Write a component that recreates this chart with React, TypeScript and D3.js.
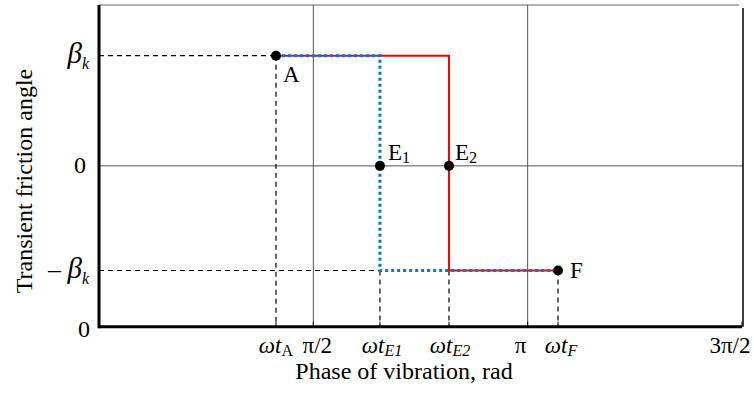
import React from 'react';
import * as d3 from 'd3';

// phases (rad)
const phaseA = 1.297;
const phaseE1 = 2.059;
const phaseE2 = 2.565;
const phaseF = 3.364;

const betaK = 1;
const negBetaK = -0.95;

const redPhase = [phaseA, phaseE2, phaseE2, phaseF];
const redAngle = [betaK, betaK, negBetaK, negBetaK];
const bluePhase = [phaseA, phaseE1, phaseE1, phaseF];
const blueAngle = [betaK, betaK, negBetaK, negBetaK];

const pointNames = ['A', 'E_1', 'E_2', 'F'];
const pointPhase = [phaseA, phaseE1, phaseE2, phaseF];
const pointAngle = [betaK, 0, 0, negBetaK];

const xTickVals = [phaseA, Math.PI / 2, phaseE1, phaseE2, Math.PI, phaseF, (3 * Math.PI) / 2];
const xTickLabels = ['ωt_A', 'π/2', 'ωt_E1', 'ωt_E2', 'π', 'ωt_F', '3π/2'];

const yTickVals = [betaK, 0, negBetaK, -1.46];
const yTickLabels = ['β_k', '0', '– β_k', '0'];

const W = 754;
const H = 396;
const FONT = '"Liberation Serif", "Times New Roman", serif';

const x = d3.scaleLinear().domain([0, (3 * Math.PI) / 2]).range([99, 742]);
const y = d3.scaleLinear().domain([-1.46, 1.46]).range([326.7, 5]);

const line = d3.line<[number, number]>()
  .x(d => x(d[0]))
  .y(d => y(d[1]));

const zip = (a: number[], b: number[]) => a.map((v, i) => [v, b[i]] as [number, number]);

const xLabelDx = [0, 4, 2, 1, -7, 3, -12];
const pointLabelPos = [
  { dx: 7, dy: 26 },
  { dx: 8, dy: -6 },
  { dx: 6, dy: -6 },
  { dx: 12, dy: 7 },
];

const TickLabel = ({ label, italic }: { label: string; italic: boolean }) => {
  const [main, sub] = label.split('_');
  return (
    <>
      <tspan fontStyle={italic ? 'italic' : 'normal'}>{main}</tspan>
      {sub && (
        <tspan fontSize={16} dy={3} fontStyle={sub === 'A' ? 'normal' : 'italic'}>{sub}</tspan>
      )}
    </>
  );
};

const App = () => {
  const x0 = x(0);
  const x1 = x((3 * Math.PI) / 2);
  const yTop = y(1.46);
  const yBot = y(-1.46);
  const dash = '5,4';

  return (
    <svg width={W} height={H} style={{ position: 'absolute', left: 0, top: 0, background: '#fff' }} fontFamily={FONT}>
      {/* grid */}
      <line x1={x0} x2={x1 - 3} y1={yTop} y2={yTop} stroke="#666" strokeWidth={1.2} />
      {[Math.PI / 2, Math.PI].map(v => (
        <line key={v} x1={x(v)} x2={x(v)} y1={yTop} y2={yBot} stroke="#555" strokeWidth={1} />
      ))}
      <line x1={x0} x2={x1 + 1} y1={y(0)} y2={y(0)} stroke="#555" strokeWidth={1} />
      <line x1={x1 + 1} x2={x1 + 1} y1={yTop + 3} y2={yBot} stroke="#000" strokeWidth={1.5} />

      {/* dashed guides */}
      <g stroke="#000" strokeWidth={1.2} strokeDasharray={dash} fill="none">
        <line x1={x0} x2={x(phaseA)} y1={y(betaK)} y2={y(betaK)} />
        <line x1={x0} x2={x(phaseE1)} y1={y(negBetaK)} y2={y(negBetaK)} />
        <line x1={x(phaseA)} x2={x(phaseA)} y1={y(betaK)} y2={yBot} />
        <line x1={x(phaseE1)} x2={x(phaseE1)} y1={y(negBetaK)} y2={yBot} />
        <line x1={x(phaseE2)} x2={x(phaseE2)} y1={y(negBetaK)} y2={yBot} />
        <line x1={x(phaseF)} x2={x(phaseF)} y1={y(negBetaK)} y2={yBot} />
      </g>

      {/* series */}
      <path d={line(zip(redPhase, redAngle)) || ''} fill="none" stroke="#ff0000" strokeWidth={2} />
      <path d={line(zip(bluePhase, blueAngle)) || ''} fill="none" stroke="#0a74c8" strokeWidth={3} strokeDasharray="3,3" />

      {/* axes */}
      <line x1={x0} x2={x0} y1={yTop} y2={yBot + 1.5} stroke="#000" strokeWidth={3} />
      <line x1={x0} x2={x1} y1={yBot} y2={yBot} stroke="#000" strokeWidth={3} />
      {xTickVals.map((v, i) => (
        <line key={i} x1={x(v)} x2={x(v)} y1={yBot} y2={yBot - 5} stroke="#000" strokeWidth={1} />
      ))}

      {/* points */}
      {pointNames.map((n, i) => {
        const [main, sub] = n.split('_');
        const px = x(pointPhase[i]);
        const py = y(pointAngle[i]);
        return (
          <g key={n}>
            <circle cx={px} cy={py} r={5} fill="#000" />
            <text x={px + pointLabelPos[i].dx} y={py + pointLabelPos[i].dy} fontSize={23}>
              {main}
              {sub && <tspan fontSize={16} dy={3}>{sub}</tspan>}
            </text>
          </g>
        );
      })}

      {/* x tick labels */}
      {xTickVals.map((v, i) => (
        <text key={i} x={x(v) + xLabelDx[i]} y={353} fontSize={23} textAnchor="middle">
          <TickLabel label={xTickLabels[i]} italic={xTickLabels[i].startsWith('ω')} />
        </text>
      ))}

      {/* y tick labels */}
      {yTickVals.map((v, i) => {
        const lab = yTickLabels[i];
        if (lab.includes('β')) {
          const [main, sub] = lab.split('_');
          const pre = main.replace('β', '');
          return (
            <text key={i} x={89} y={y(v) + 7} textAnchor="end" fontSize={29}>
              {pre && <tspan fontSize={26}>{pre}</tspan>}
              <tspan fontStyle="italic">β</tspan>
              <tspan fontSize={16} fontStyle="italic" dy={6}>{sub}</tspan>
            </text>
          );
        }
        return (
          <text key={i} x={i === 3 ? 90 : 86} y={y(v) + (i === 3 ? 10 : 7)} textAnchor="end" fontSize={24}>
            {lab}
          </text>
        );
      })}

      {/* axis titles */}
      <text x={404} y={379} fontSize={24} textAnchor="middle">Phase of vibration, rad</text>
      <text transform={`translate(32, 181) rotate(-90)`} fontSize={24} textAnchor="middle">
        Transient friction angle
      </text>
    </svg>
  );
};

export default App;
